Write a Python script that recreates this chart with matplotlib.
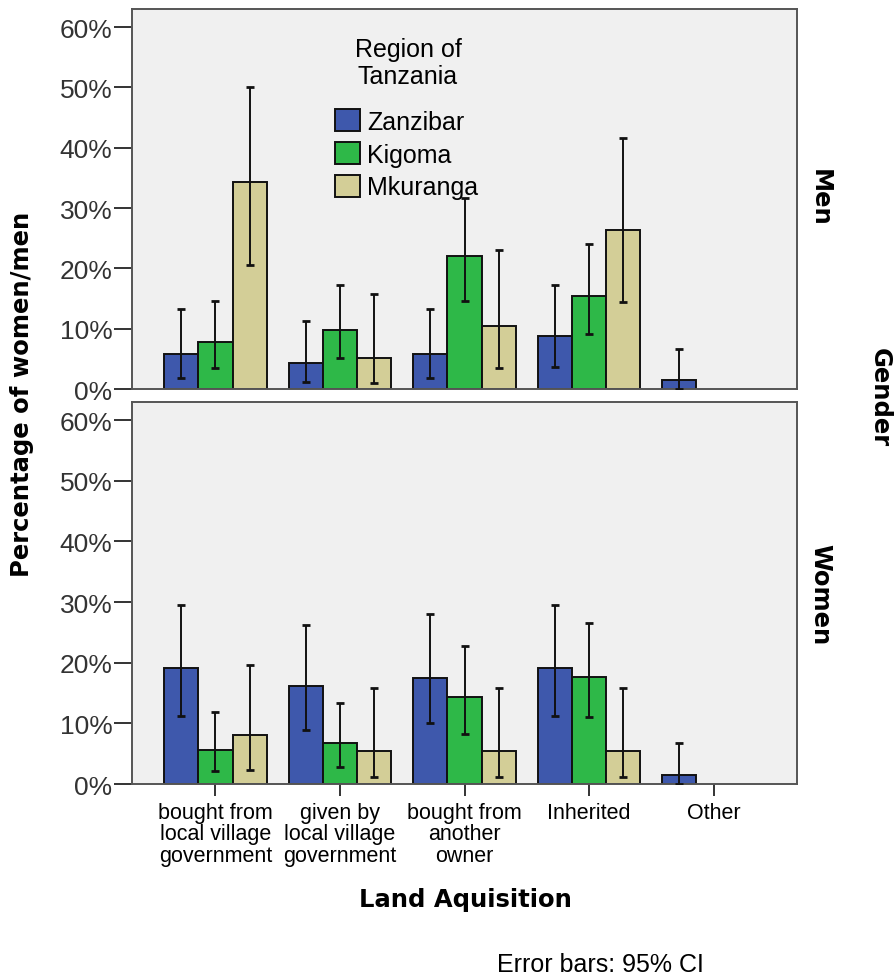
import numpy as np
import matplotlib.pyplot as plt

# Land acquisition categories and regions
categories = ['bought from\nlocal village\ngovernment', 'given by\nlocal village\ngovernment',
              'bought from\nanother\nowner', 'Inherited', 'Other']
regions = ['Zanzibar', 'Kigoma', 'Mkuranga']
colors = ['#3E58AC', '#2EB848', '#D3CE97']

# Men: percentages, with 95% CI low/high
men_zanzibar = [5.8, 4.3, 5.8, 8.8, 1.5]
men_zanzibar_lo = [1.8, 1.2, 1.8, 3.7, 0.0]
men_zanzibar_hi = [13.3, 11.2, 13.3, 17.2, 6.6]
men_kigoma = [7.8, 9.8, 22.1, 15.5, 0.0]
men_kigoma_lo = [3.5, 5.1, 14.6, 9.1, 0.0]
men_kigoma_hi = [14.6, 17.3, 31.7, 24.0, 0.0]
men_mkuranga = [34.3, 5.1, 10.4, 26.4, 0.0]
men_mkuranga_lo = [20.6, 1.0, 3.5, 14.4, 0.0]
men_mkuranga_hi = [50.0, 15.8, 23.1, 41.7, 0.0]

# Women
women_zanzibar = [19.1, 16.2, 17.5, 19.1, 1.5]
women_zanzibar_lo = [11.2, 8.9, 10.0, 11.2, 0.0]
women_zanzibar_hi = [29.6, 26.2, 28.0, 29.6, 6.7]
women_kigoma = [5.6, 6.7, 14.4, 17.7, 0.0]
women_kigoma_lo = [2.1, 2.8, 8.3, 11.0, 0.0]
women_kigoma_hi = [11.8, 13.3, 22.7, 26.6, 0.0]
women_mkuranga = [8.1, 5.4, 5.4, 5.4, 0.0]
women_mkuranga_lo = [2.3, 1.1, 1.1, 1.1, 0.0]
women_mkuranga_hi = [19.6, 15.9, 15.9, 15.9, 0.0]

men = [(men_zanzibar, men_zanzibar_lo, men_zanzibar_hi),
       (men_kigoma, men_kigoma_lo, men_kigoma_hi),
       (men_mkuranga, men_mkuranga_lo, men_mkuranga_hi)]
women = [(women_zanzibar, women_zanzibar_lo, women_zanzibar_hi),
         (women_kigoma, women_kigoma_lo, women_kigoma_hi),
         (women_mkuranga, women_mkuranga_lo, women_mkuranga_hi)]

plt.rcParams['font.family'] = ['Liberation Sans', 'DejaVu Sans']
bold = dict(family='DejaVu Sans', fontweight='bold', fontsize=17.5)

fig = plt.figure(figsize=(8.95, 9.78), dpi=100)
ax_top = fig.add_axes([0.1475, 0.6012, 0.743, 0.3885])
ax_bot = fig.add_axes([0.1475, 0.1973, 0.743, 0.3906])

x = np.arange(len(categories))
width = 0.275
offsets = [-width, 0, width]

for ax, data in [(ax_top, men), (ax_bot, women)]:
    ax.set_facecolor('#F0F0F0')
    for i, (vals, lo, hi) in enumerate(data):
        vals = np.array(vals)
        lo = np.array(lo)
        hi = np.array(hi)
        xs = x + offsets[i]
        mask = vals > 0
        ax.bar(xs[mask], vals[mask], width, color=colors[i], edgecolor='#111111',
               linewidth=1.4, label=regions[i], zorder=2)
        emask = hi > 0
        ax.errorbar(xs[emask], vals[emask],
                    yerr=[vals[emask] - lo[emask], hi[emask] - vals[emask]],
                    fmt='none', ecolor='#111111', elinewidth=1.4, capsize=2.8,
                    capthick=2, zorder=3)
    ax.set_xlim(-0.67, 4.67)
    ax.set_ylim(0, 63)
    ax.set_yticks(np.arange(0, 61, 10))
    ax.set_yticklabels([f'{v}%' for v in range(0, 61, 10)], fontsize=19, color='#333333')
    ax.tick_params(axis='y', direction='out', length=13, width=1.4, color='#333333', pad=1)
    for s in ax.spines.values():
        s.set_color('#555555')
        s.set_linewidth(1.4)

ax_top.set_xticks([])
ax_bot.set_xticks(x)
ax_bot.set_xticklabels(categories, fontsize=15.5, linespacing=1.05)
ax_bot.tick_params(axis='x', direction='out', length=8.6, width=1.4, color='#333333', pad=4)

# legend title drawn separately so its gap to the entries can be set
ax_top.text(0.415, 0.859, 'Region of\nTanzania', transform=ax_top.transAxes,
            fontsize=18, ha='center', va='center', multialignment='center',
            linespacing=1.15)
ax_top.legend(loc='upper left', bbox_to_anchor=(0.305, 0.737), frameon=False,
              fontsize=18, handlelength=1.0, handleheight=1.0,
              handletextpad=0.3, labelspacing=0.32, borderpad=0,
              borderaxespad=0)

fig.text(0.0246, 0.597, 'Percentage of women/men', rotation=90,
         ha='center', va='center', **bold)
fig.text(0.52, 0.0798, 'Land Aquisition', ha='center', va='center', **bold)
fig.text(0.916, 0.798, 'Men', rotation=-90, ha='center', va='center', **bold)
fig.text(0.916, 0.392, 'Women', rotation=-90, ha='center', va='center', **bold)
fig.text(0.983, 0.594, 'Gender', rotation=-90, ha='center', va='center', **bold)
fig.text(0.671, 0.013, 'Error bars: 95% CI', fontsize=18, ha='center', va='center')

fig.savefig('out.png', dpi=100)
